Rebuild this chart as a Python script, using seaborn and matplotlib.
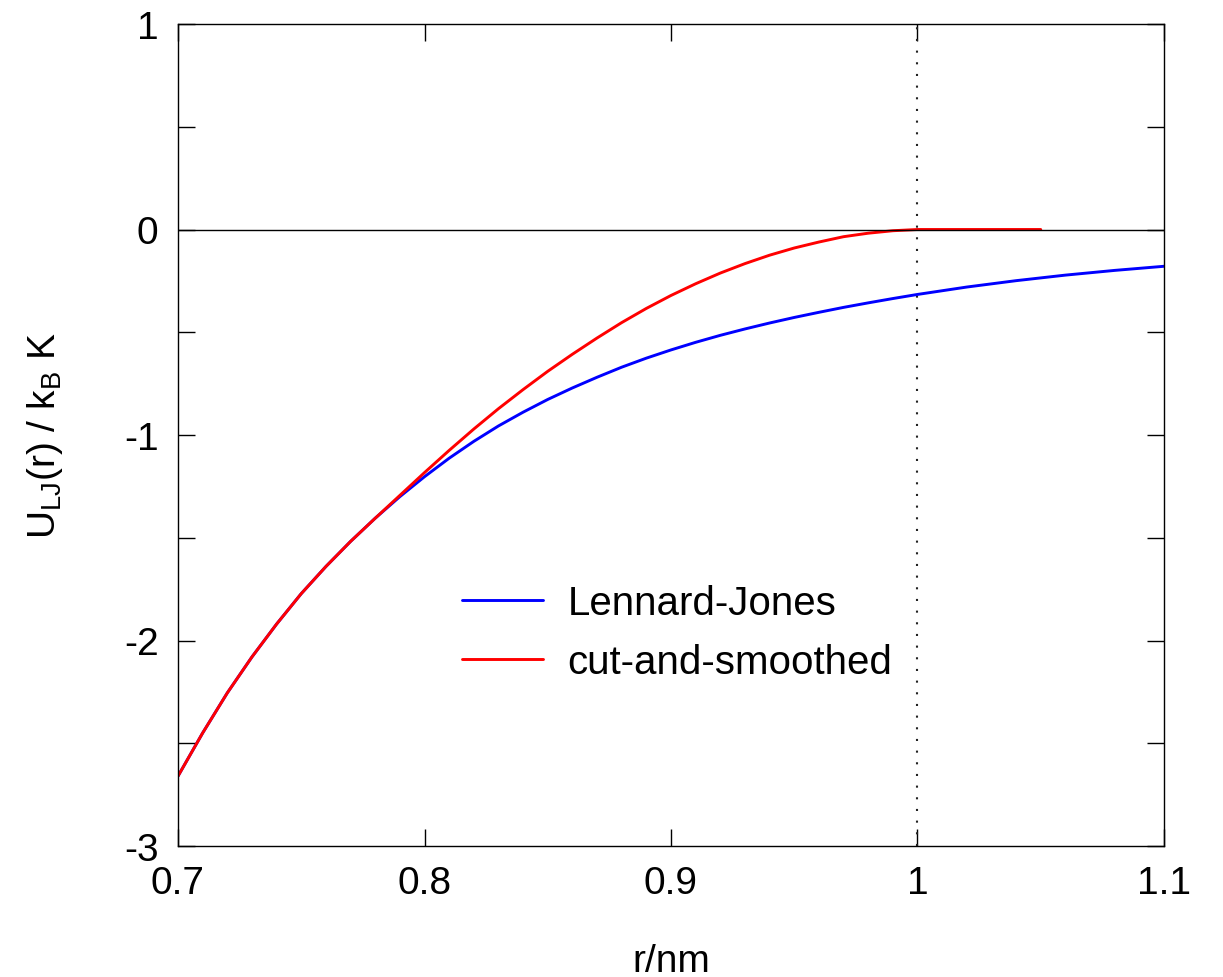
import matplotlib
matplotlib.use("Agg")
import matplotlib.pyplot as plt
import seaborn as sns
import pandas as pd
from matplotlib.ticker import MultipleLocator, FixedLocator, FixedFormatter

# ---- data read (estimated) from the reference picture ----
r_lj = [0.70, 0.71, 0.72, 0.73, 0.74, 0.75, 0.76, 0.77, 0.78, 0.79,
        0.80, 0.81, 0.82, 0.83, 0.84, 0.85, 0.86, 0.87, 0.88, 0.89,
        0.90, 0.91, 0.92, 0.93, 0.94, 0.95, 0.96, 0.97, 0.98, 0.99,
        1.00, 1.02, 1.04, 1.06, 1.08, 1.10]
u_lj = [-2.660, -2.450, -2.255, -2.080, -1.920, -1.772, -1.640, -1.518, -1.405, -1.300,
        -1.203, -1.113, -1.031, -0.956, -0.889, -0.827, -0.771, -0.719, -0.670, -0.626,
        -0.586, -0.549, -0.515, -0.484, -0.455, -0.428, -0.403, -0.379, -0.357, -0.336,
        -0.316, -0.280, -0.249, -0.222, -0.199, -0.179]

r_cs = [0.70, 0.71, 0.72, 0.73, 0.74, 0.75, 0.76, 0.77, 0.78, 0.79,
        0.80, 0.81, 0.82, 0.83, 0.84, 0.85, 0.86, 0.87, 0.88, 0.89,
        0.90, 0.91, 0.92, 0.93, 0.94, 0.95, 0.96, 0.97, 0.98, 0.99,
        1.00, 1.05]
u_cs = [-2.660, -2.450, -2.255, -2.080, -1.920, -1.772, -1.640, -1.518, -1.405, -1.294,
        -1.183, -1.075, -0.971, -0.872, -0.779, -0.690, -0.607, -0.528, -0.453, -0.384,
        -0.321, -0.264, -0.212, -0.166, -0.125, -0.090, -0.061, -0.035, -0.018, -0.006,
        0.000, 0.000]

series_labels = ["Lennard-Jones", "cut-and-smoothed"]
x_ticks = [0.7, 0.8, 0.9, 1.0, 1.1]
x_tick_labels = ["0.7", "0.8", "0.9", "1", "1.1"]
y_ticks = [-3, -2, -1, 0, 1]
y_tick_labels = ["-3", "-2", "-1", "0", "1"]
cutoff = 1.0

sns.set_theme(style="ticks")
plt.rcParams["font.family"] = ["Liberation Sans", "DejaVu Sans"]
plt.rcParams["text.color"] = "black"
plt.rcParams["axes.unicode_minus"] = False
plt.rcParams["mathtext.fontset"] = "custom"
plt.rcParams["mathtext.rm"] = "Liberation Sans"
plt.rcParams["mathtext.it"] = "Liberation Sans"

fig = plt.figure(figsize=(12.23, 9.78), dpi=100)
ax = fig.add_axes([178 / 1223, 1 - 847 / 978, (1164 - 178) / 1223, (847 - 25) / 978])

df_lj = pd.DataFrame({"r": r_lj, "U": u_lj})
df_cs = pd.DataFrame({"r": r_cs, "U": u_cs})

ax.axhline(0, color="black", lw=1.0, zorder=3)
ax.axvline(cutoff, color="#222222", lw=1.5, linestyle=(0, (1.0, 4.6)), zorder=1)

sns.lineplot(data=df_lj, x="r", y="U", color="#0000ff", lw=2.1, label=series_labels[0],
             ax=ax, sort=False, zorder=2)
sns.lineplot(data=df_cs, x="r", y="U", color="#ff0000", lw=2.1, label=series_labels[1],
             ax=ax, sort=False, zorder=2.5)

ax.set_xlim(0.7, 1.1)
ax.set_ylim(-3, 1)

ax.xaxis.set_major_locator(FixedLocator(x_ticks))
ax.xaxis.set_major_formatter(FixedFormatter(x_tick_labels))
ax.yaxis.set_major_locator(FixedLocator(y_ticks))
ax.yaxis.set_major_formatter(FixedFormatter(y_tick_labels))
ax.yaxis.set_minor_locator(MultipleLocator(0.5))

for s in ax.spines.values():
    s.set_color("black")
    s.set_linewidth(1.0)

ax.tick_params(which="both", direction="in", length=12.2, width=1.0, color="black",
               top=True, right=True, labelsize=28, labelcolor="black")
ax.tick_params(axis="x", pad=14)
ax.tick_params(axis="y", pad=14)

ax.set_xlabel("r/nm", fontsize=28, labelpad=30, color="black")
ax.set_ylabel(r"$\mathregular{U_{LJ}(r)\ /\ k_B\ K}$", fontsize=28, labelpad=42, color="black")

leg = ax.legend(loc="upper left", bbox_to_anchor=(0.288, 0.319), frameon=False,
                fontsize=29, handlelength=2.0, handletextpad=0.62, labelspacing=0.52,
                borderpad=0, borderaxespad=0, labelcolor="black")

fig.savefig("out.png", dpi=100)
